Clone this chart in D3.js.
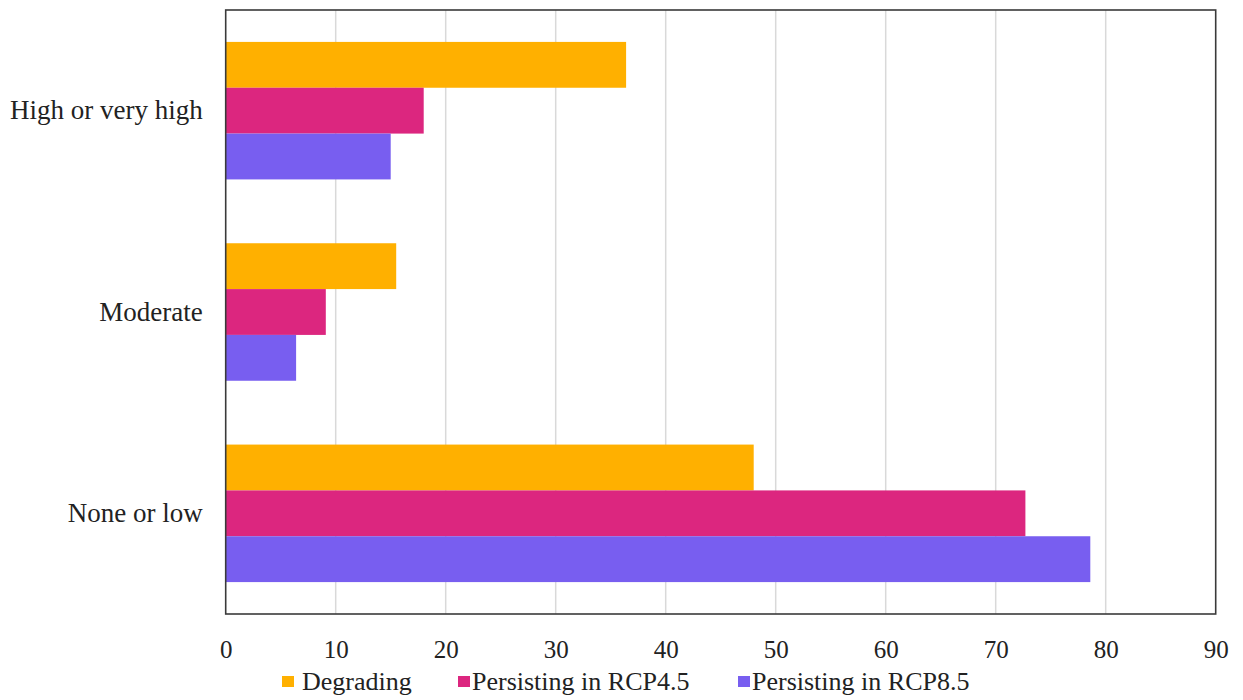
<!DOCTYPE html>
<html>
<head>
<meta charset="utf-8">
<script src="https://cdn.jsdelivr.net/npm/d3@7"></script>
<style>
  html, body { margin: 0; padding: 0; background: #fff; }
  svg { display: block; font-family: "Liberation Serif", "Times New Roman", serif; }
</style>
</head>
<body>
<svg id="chart" width="1243" height="700"></svg>
<script>
// Share of area by drought category
const categories = ["High or very high", "Moderate", "None or low"];
const seriesNames = ["Degrading", "Persisting in RCP4.5", "Persisting in RCP8.5"];
const degrading = [36.4, 15.5, 48.0];
const persisting45 = [18.0, 9.1, 72.7];
const persisting85 = [15.0, 6.4, 78.6];
const xTicks = [0, 10, 20, 30, 40, 50, 60, 70, 80, 90];
const colors = ["#FFB000", "#DC267F", "#785EF0"];

const seriesValues = [degrading, persisting45, persisting85];

const svg = d3.select("#chart");
const margin = { left: 225.7, right: 27.3, top: 10, bottom: 86 };
const W = 1243, H = 700;
const innerW = W - margin.left - margin.right;
const innerH = H - margin.top - margin.bottom;

const g = svg.append("g").attr("transform", `translate(${margin.left},${margin.top})`);

const x = d3.scaleLinear().domain([0, 90]).range([0, innerW]);
const y0 = d3.scaleBand().domain(categories).range([0, innerH])
  .paddingInner(0.317).paddingOuter(0.1585);
const y1 = d3.scaleBand().domain(seriesNames).range([0, y0.bandwidth()]);

// vertical gridlines
g.append("g")
  .selectAll("line")
  .data(xTicks.slice(1, -1))
  .join("line")
  .attr("x1", d => x(d)).attr("x2", d => x(d))
  .attr("y1", 0).attr("y2", innerH)
  .attr("stroke", "#d9d9d9").attr("stroke-width", 1.5);

// bars
const rows = [];
categories.forEach((c, i) => {
  seriesNames.forEach((s, j) => {
    rows.push({ cat: c, series: s, value: seriesValues[j][i], color: colors[j] });
  });
});

g.append("g")
  .selectAll("rect")
  .data(rows)
  .join("rect")
  .attr("x", x(0))
  .attr("y", d => y0(d.cat) + y1(d.series))
  .attr("width", d => x(d.value) - x(0))
  .attr("height", y1.bandwidth())
  .attr("fill", d => d.color);

// plot frame
g.append("rect")
  .attr("x", 0).attr("y", 0)
  .attr("width", innerW).attr("height", innerH)
  .attr("fill", "none")
  .attr("stroke", "#3a3a3a").attr("stroke-width", 1.6);

// x axis labels
const xAxis = d3.axisBottom(x).tickValues(xTicks).tickSize(0).tickPadding(0)
  .tickFormat(d3.format("d"));
const gx = g.append("g").attr("transform", `translate(0,${innerH})`).call(xAxis);
gx.select(".domain").remove();
gx.selectAll("text")
  .attr("y", 44).attr("dy", null)
  .attr("font-family", "Liberation Serif, Times New Roman, serif")
  .attr("font-size", 25).attr("fill", "#222");

// y axis labels
const yAxis = d3.axisLeft(y0).tickSize(0).tickPadding(23);
const gy = g.append("g").call(yAxis);
gy.select(".domain").remove();
gy.selectAll("text")
  .attr("font-family", "Liberation Serif, Times New Roman, serif")
  .attr("font-size", 27).attr("fill", "#222");

// legend
const legendX = [282, 458, 738];
const legendTextX = [302, 472, 752];
const legend = svg.append("g").attr("transform", "translate(0,690)");
const items = legend.selectAll("g")
  .data(seriesNames)
  .join("g");
items.append("rect")
  .attr("x", (d, i) => legendX[i]).attr("y", -14).attr("width", 12).attr("height", 11)
  .attr("fill", (d, i) => colors[i]);
items.append("text")
  .attr("x", (d, i) => legendTextX[i]).attr("y", 0)
  .attr("font-size", 26).attr("fill", "#222")
  .text(d => d);
</script>
</body>
</html>
